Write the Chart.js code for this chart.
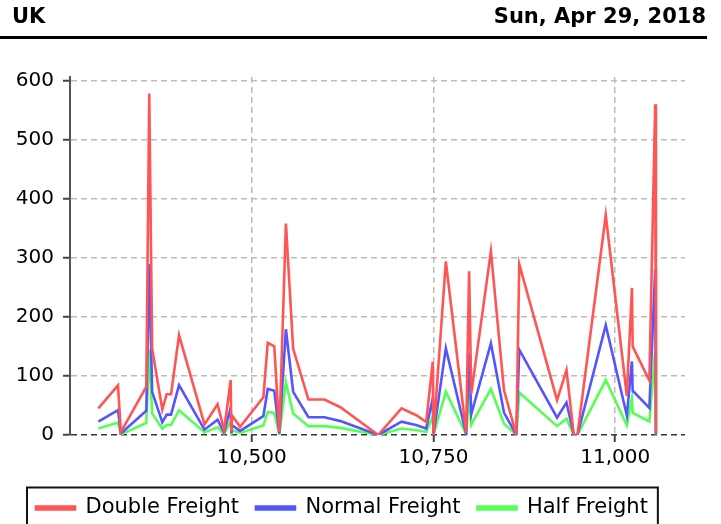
<!DOCTYPE html>
<html>
<head>
<meta charset="utf-8">
<script src="https://cdn.jsdelivr.net/npm/chart.js@4.4.0/dist/chart.umd.min.js"></script>
<style>
html, body { margin: 0; padding: 0; background: #fff; overflow: hidden; }
#wrap { width: 721px; height: 530px; }
</style>
</head>
<body>
<div id="wrap"><canvas id="freightChart" width="721" height="530"></canvas></div>
<script>
var region = 'UK';
var dateLabel = 'Sun, Apr 29, 2018';
var seriesNames = ['Double Freight', 'Normal Freight', 'Half Freight'];
var seriesColors = ['#ff5555', '#5555ff', '#55ff55'];

var days = [10289, 10316, 10320, 10355, 10359, 10363, 10377, 10383, 10389, 10400,
            10435, 10453, 10462, 10471, 10472, 10473, 10484, 10516, 10522, 10531,
            10538, 10547, 10557, 10578, 10600, 10622, 10674, 10706, 10727, 10740,
            10749, 10750, 10767, 10795, 10799, 10802, 10829, 10847, 10864, 10868,
            10920, 10933, 10943, 10948, 10987, 11016, 11023, 11024, 11047, 11055, 11056];
var doubleFreight = [45, 84, 5, 82, 578, 146, 43, 69, 69, 169,
                     18, 52, 8, 93, 6, 33, 14, 64, 156, 150,
                     5, 358, 146, 60, 60, 47, 0, 45, 33, 22,
                     124, 0, 294, 4, 277, 70, 311, 76, 0, 289,
                     59, 110, 0, 0, 372, 66, 249, 150, 92, 560, 4];
var normalFreight = [22.5, 42, 2.5, 41, 289, 73, 21.5, 34.5, 34.5, 84.5,
                     9, 26, 4, 46.5, 3, 16.5, 7, 32, 78, 75,
                     2.5, 179, 73, 30, 30, 23.5, 0, 22.5, 16.5, 11,
                     62, 0, 147, 2, 138.5, 35, 155.5, 38, 0, 144.5,
                     29.5, 55, 0, 0, 186, 33, 124.5, 75, 46, 280, 2];
var halfFreight = [11, 21, 1, 20.5, 144.5, 36.5, 11, 17, 17, 42,
                   4.5, 13, 2, 23, 1.5, 8, 3.5, 16, 39, 37.5,
                   1, 89.5, 36.5, 15, 15, 12, 0, 11, 8, 5.5,
                   31, 0, 73.5, 1, 69, 17.5, 78, 19, 0, 72,
                   15, 27.5, 0, 0, 93, 16.5, 62, 37.5, 23, 140, 1];

var xTicks = [10500, 10750, 11000];
var yTicks = [0, 100, 200, 300, 400, 500, 600];

function points(values) {
    return days.map(function (d, i) { return { x: d, y: values[i] }; });
}

// title strip at the top
var headerPlugin = {
    id: 'header',
    afterDraw: function (chart) {
        var c = chart.ctx;
        c.save();
        c.fillStyle = '#000';
        c.font = 'bold 21px "DejaVu Sans"';
        c.textBaseline = 'middle';
        c.textAlign = 'left';
        c.fillText(region, 12, 18);
        c.textAlign = 'right';
        c.fillText(dateLabel, 706, 18);
        c.fillRect(0, 36, 707, 3);
        c.restore();
    }
};

// legend sits a bit in from the left edge, with a box round it
var legendFrame = {
    id: 'legendFrame',
    afterLayout: function (chart) {
        chart.legend.left = 19;
    },
    afterDraw: function (chart) {
        var boxes = chart.legend.legendHitBoxes;
        if (!boxes || !boxes.length) return;
        var first = boxes[0], last = boxes[boxes.length - 1];
        var c = chart.ctx;
        c.save();
        c.strokeStyle = '#111';
        c.lineWidth = 2;
        c.strokeRect(first.left - 9, first.top - 10, last.left + last.width - first.left + 19, first.height + 20);
        c.restore();
    }
};

var ctx = document.getElementById('freightChart').getContext('2d');
var freightChart = new Chart(ctx, {
    type: 'line',
    data: {
        datasets: [
            { label: seriesNames[0], data: points(doubleFreight), borderColor: seriesColors[0], backgroundColor: seriesColors[0] },
            { label: seriesNames[1], data: points(normalFreight), borderColor: seriesColors[1], backgroundColor: seriesColors[1] },
            { label: seriesNames[2], data: points(halfFreight), borderColor: seriesColors[2], backgroundColor: seriesColors[2] }
        ]
    },
    options: {
        responsive: false,
        animation: false,
        devicePixelRatio: 1,
        layout: { padding: { left: 0, right: 36, top: 77, bottom: 1.5 } },
        elements: {
            line: { borderWidth: 2.6, tension: 0 },
            point: { radius: 0, hoverRadius: 0 }
        },
        plugins: {
            tooltip: { enabled: false },
            legend: {
                position: 'bottom',
                align: 'start',
                labels: {
                    boxWidth: 39,
                    boxHeight: 3,
                    padding: 17,
                    color: '#000',
                    font: { family: 'DejaVu Sans', size: 21 }
                }
            }
        },
        scales: {
            x: {
                type: 'linear',
                min: 10250,
                max: 11096,
                afterBuildTicks: function (scale) {
                    scale.ticks = xTicks.map(function (v) { return { value: v }; });
                },
                afterFit: function (scale) { scale.height = 45.5; },
                ticks: {
                    color: '#000',
                    padding: 4,
                    maxRotation: 0,
                    font: { family: 'DejaVu Sans', size: 20 },
                    callback: function (v) { return v.toLocaleString('en-US'); }
                },
                grid: {
                    color: '#bbbbbb',
                    lineWidth: 1.5,
                    tickColor: '#444',
                    tickLength: 7,
                    tickWidth: 2,
                    tickBorderDash: []
                },
                border: { display: false, dash: [6, 4] }
            },
            y: {
                min: 0,
                max: 606,
                afterBuildTicks: function (scale) {
                    scale.ticks = yTicks.map(function (v) { return { value: v }; });
                },
                afterFit: function (scale) { scale.width = 70; },
                ticks: {
                    color: '#000',
                    padding: 9,
                    font: { family: 'DejaVu Sans', size: 20 }
                },
                grid: {
                    color: function (c) { return c.tick && c.tick.value === 0 ? '#333' : '#bbbbbb'; },
                    lineWidth: 1.5,
                    tickColor: '#444',
                    tickLength: 7,
                    tickWidth: 2,
                    tickBorderDash: []
                },
                border: { display: true, color: '#555', width: 2, dash: [6, 4] }
            }
        }
    },
    plugins: [headerPlugin, legendFrame]
});
</script>
</body>
</html>
